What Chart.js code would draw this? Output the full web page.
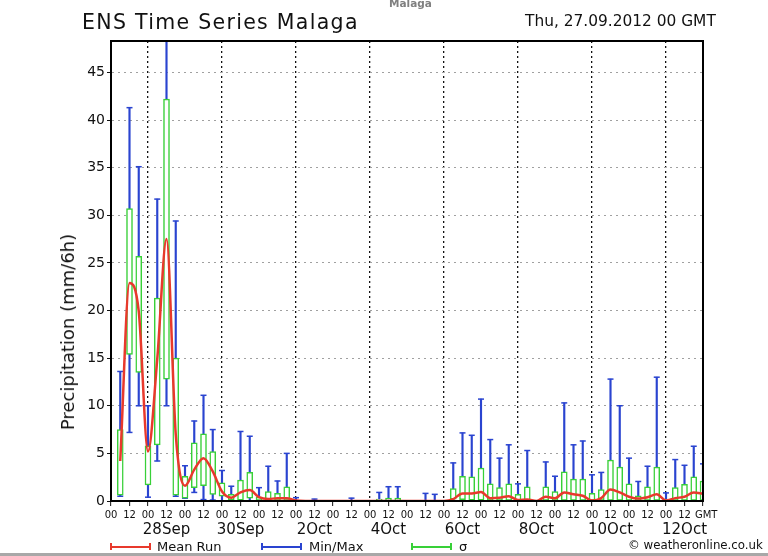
<!DOCTYPE html>
<html lang="en">
<head>
    <meta charset="UTF-8">
    <title>ENS Time Series Malaga</title>
    <script src="https://cdn.jsdelivr.net/npm/chart.js"></script>
    <style>
        body { margin: 0; background: #fff; }
        #wrap { position: relative; width: 768px; height: 556px; overflow: hidden;
                font-family: "DejaVu Sans", sans-serif; color: #111; }
        #wrap canvas { position: absolute; left: 0; top: 0; }
        .txt { position: absolute; white-space: nowrap; line-height: 1; }
        .key { position: absolute; top: 543px; width: 41px; height: 7px; box-sizing: border-box;
               border-left: 2px solid; border-right: 2px solid; }
        .key::after { content: ''; position: absolute; left: 0; right: 0; top: 2.5px; height: 2px;
                      background: currentColor; }
    </style>
</head>
<body>
<div id="wrap">
    <canvas id="ensChart" width="768" height="556"></canvas>
    <div class="txt" style="left:389px; top:-2px; font-size:10.5px; font-weight:bold; color:#808080;">Malaga</div>
    <div class="txt" style="left:82px; top:12px; font-size:20.5px; letter-spacing:1.3px;">ENS Time Series Malaga</div>
    <div class="txt" style="left:525px; top:14px; font-size:15.4px;">Thu, 27.09.2012 00 GMT</div>
    <div class="txt" style="left:68px; top:332px; font-size:18px; transform:translate(-50%,-50%) rotate(-90deg);">Precipitation (mm/6h)</div>
    <div class="key" style="left:110px; color:#e8392c;"></div>
    <div class="txt" style="left:157px; top:540px; font-size:13px;">Mean Run</div>
    <div class="key" style="left:261px; color:#2a44d0;"></div>
    <div class="txt" style="left:309px; top:540px; font-size:13px;">Min/Max</div>
    <div class="key" style="left:411px; color:#38d038;"></div>
    <div class="txt" style="left:459px; top:540px; font-size:13px;">σ</div>
    <div class="txt" style="left:628px; top:540px; font-size:11.8px;">© weatheronline.co.uk</div>
    <div style="position:absolute; left:0; top:553px; width:768px; height:3px; background:#a8a8a8;"></div>
</div>

<script>
// pas de 6h depuis le 27.09 00 GMT (1 = 27.09 06h ... 64 = 13.10 00h)
const steps = Array.from({ length: 64 }, (_, i) => i + 1);

const minVals = [0.5, 7.2, 10.0, 0.4, 4.2, 10.0, 0.5, 0.3, 0.9, 0.15, 0.1, 0, 0, 0, 0, 0,
                 0, 0, 0, 0, 0, 0, 0, 0, 0, 0, 0, 0, 0, 0, 0, 0,
                 0, 0, 0, 0, 0, 0, 0, 0, 0, 0, 0, 0, 0, 0, 0, 0,
                 0, 0, 0, 0, 0, 0, 0, 0, 0, 0, 0, 0, 0, 0, 0, 0];
const boxLow = [0.6, 15.4, 13.5, 1.7, 5.9, 12.8, 0.6, 0.3, 1.4, 1.6, 0.7, 0.5, 0.1, 0.1, 0.3, 0,
                0, 0, 0, 0, 0, 0, 0, 0, 0, 0, 0, 0, 0, 0, 0, 0,
                0, 0, 0, 0, 0.2, 0.15, 0.1, 0.1, 0, 0, 0, 0, 0, 0, 0, 0,
                0, 0, 0, 0, 0, 0, 0, 0, 0, 0, 0, 0, 0, 0, 0, 0];
const boxHigh = [7.5, 30.7, 25.7, 5.8, 21.3, 42.2, 15.0, 2.6, 6.1, 7.05, 5.2, 1.9, 0.7, 2.2, 3.0, 0.4,
                 1.0, 0.8, 1.5, 0.1, 0, 0, 0, 0, 0, 0, 0, 0, 0.2, 0.3, 0.3, 0,
                 0, 0.05, 0.05, 0, 1.3, 2.6, 2.55, 3.45, 1.8, 1.4, 1.8, 0.7, 1.5, 0, 1.5, 1.0,
                 3.05, 2.3, 2.3, 0.8, 1.2, 4.3, 3.55, 1.8, 0.55, 1.5, 3.55, 0.2, 1.4, 1.75, 2.55, 2.1];
const maxVals = [13.6, 41.3, 35.1, 10.0, 31.7, 52, 29.4, 3.7, 8.4, 11.1, 7.5, 3.2, 1.55, 7.3, 6.8, 1.4,
                 3.65, 2.1, 5.0, 0.35, 0, 0.2, 0, 0, 0, 0.3, 0, 0, 0.9, 1.5, 1.5, 0,
                 0, 0.8, 0.7, 0, 4.0, 7.15, 6.9, 10.7, 6.45, 4.5, 5.9, 1.8, 5.3, 0, 4.1, 2.6,
                 10.3, 5.9, 6.3, 2.75, 3.0, 12.8, 10.0, 4.5, 2.05, 3.65, 13.0, 0.85, 4.35, 3.75, 5.75, 3.9];
const meanRun = [4.2, 22.9, 19.9, 5.2, 14.9, 27.5, 7.0, 1.6, 3.3, 4.5, 3.1, 1.0, 0.35, 0.9, 1.15, 0.4,
                 0.2, 0.3, 0.3, 0.05, 0, 0, 0, 0, 0, 0, 0, 0, 0, 0, 0, 0,
                 0, 0, 0, 0, 0.2, 0.8, 0.8, 0.95, 0.3, 0.35, 0.5, 0.1, 0.15, 0, 0.45, 0.3,
                 0.9, 0.7, 0.55, 0.05, 0.3, 1.2, 0.9, 0.45, 0.25, 0.4, 0.7, 0.05, 0.3, 0.45, 0.9, 0.75];

// étiquettes de l'axe du temps
const dateTicks = [6, 14, 22, 30, 38, 46, 54, 62];
const dateLabels = ['28Sep', '30Sep', '2Oct', '4Oct', '6Oct', '8Oct', '10Oct', '12Oct'];

const RED = '#e8392c';
const BLUE = '#2a44d0';
const GREEN = '#38d038';
const FONT = '"DejaVu Sans", sans-serif';

const boxData = [];
const whiskerData = [];
const capData = [];
steps.forEach((s, i) => {
    if (maxVals[i] > 0) {
        whiskerData.push({ x: s, y: [minVals[i], maxVals[i]] });
        capData.push({ x: s, y: minVals[i] });
        capData.push({ x: s, y: maxVals[i] });
    }
    if (boxHigh[i] > 0) boxData.push({ x: s, y: [boxLow[i], boxHigh[i]] });
});
const meanData = steps.map((s, i) => ({ x: s, y: meanRun[i] }));

const framePlugin = {
    id: 'frame',
    afterDraw(chart) {
        const { ctx, chartArea: a } = chart;
        ctx.save();
        ctx.strokeStyle = '#000';
        ctx.lineWidth = 2;
        ctx.strokeRect(a.left, a.top, a.right - a.left, a.bottom - a.top);
        ctx.restore();
    }
};

const ctx = document.getElementById('ensChart').getContext('2d');
const ensChart = new Chart(ctx, {
    type: 'line',
    data: {
        datasets: [
            {
                type: 'line',
                label: 'Mean Run',
                data: meanData,
                borderColor: RED,
                borderWidth: 2.5,
                pointRadius: 0,
                cubicInterpolationMode: 'monotone',
                order: 0
            },
            {
                type: 'bar',
                label: 'σ',
                data: boxData,
                backgroundColor: '#ffffff',
                borderColor: GREEN,
                borderWidth: 1.5,
                borderSkipped: false,
                barThickness: 6,
                grouped: false,
                order: 1
            },
            {
                type: 'scatter',
                label: 'caps',
                data: capData,
                pointStyle: 'line',
                radius: 3,
                borderColor: BLUE,
                borderWidth: 1.5,
                order: 2
            },
            {
                type: 'bar',
                label: 'Min/Max',
                data: whiskerData,
                backgroundColor: BLUE,
                borderWidth: 0,
                barThickness: 1.5,
                grouped: false,
                order: 3
            }
        ]
    },
    options: {
        responsive: false,
        animation: false,
        events: [],
        layout: { padding: { top: 41, right: 65, bottom: 15, left: 0 } },
        plugins: { legend: { display: false }, tooltip: { enabled: false } },
        scales: {
            x: {
                type: 'linear', min: 0, max: 64, offset: false, weight: 0,
                afterFit: s => { s.height = 20; },
                ticks: {
                    stepSize: 2, autoSkip: false, maxRotation: 0, padding: 3, color: '#111',
                    font: { family: FONT, size: 10 },
                    callback: v => v === 64 ? '  GMT' : (v % 4 === 0 ? '00' : '12')
                },
                grid: {
                    offset: false, lineWidth: 1.3,
                    color: c => (c.tick && c.tick.value % 8 === 4) ? '#111' : 'rgba(0,0,0,0)',
                    tickColor: '#111', tickLength: 5, tickWidth: 1
                },
                border: { color: '#000', width: 2, dash: [2, 3] }
            },
            xd: {
                type: 'linear', position: 'bottom', min: 0, max: 64, weight: 1,
                afterFit: s => { s.height = 20; },
                afterBuildTicks: s => { s.ticks = dateTicks.map(v => ({ value: v })); },
                ticks: {
                    autoSkip: false, maxRotation: 0, padding: 0, color: '#111',
                    font: { family: FONT, size: 15 },
                    callback: v => dateLabels[dateTicks.indexOf(v)]
                },
                grid: { display: false, drawTicks: false },
                border: { display: false }
            },
            y: {
                min: 0, max: 48.3,
                afterFit: s => { s.width = 111; },
                ticks: {
                    stepSize: 5, includeBounds: false, padding: 2, color: '#111',
                    font: { family: FONT, size: 14 }
                },
                grid: { color: '#a0a0a0', lineWidth: 1, tickColor: '#111', tickLength: 4 },
                border: { color: '#000', width: 2, dash: [2, 4] }
            }
        }
    },
    plugins: [framePlugin]
});
</script>
</body>
</html>
